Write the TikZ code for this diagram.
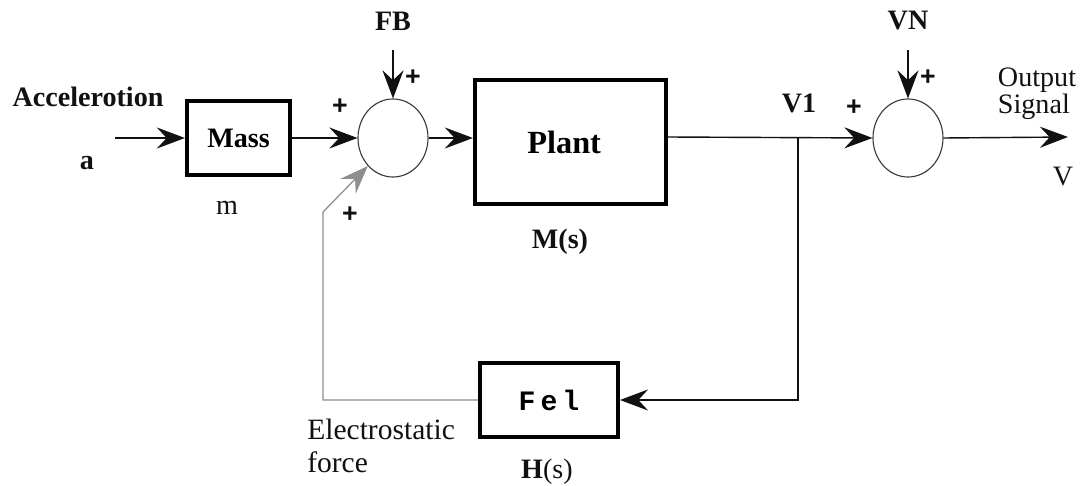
\documentclass[tikz,border=0pt]{standalone}
\usepackage{fontspec}
\setmainfont{Liberation Serif}
\newfontfamily\plusfont{Liberation Sans}
\newfontfamily\felfont[LetterSpace=18]{Liberation Mono}
\usetikzlibrary{arrows.meta,positioning,shapes.geometric,calc}
\definecolor{ink}{HTML}{111111}
\definecolor{ring}{HTML}{3A3A3A}
\definecolor{fbgray}{HTML}{8E8E8E}
\tikzset{
  block/.style={rectangle,draw=black,line width=2.8pt,fill=white,inner sep=0pt,font=\fontsize{20}{22}\selectfont\bfseries},
  summer/.style={ellipse,draw=ring,line width=0.8pt,minimum width=1.75cm,minimum height=1.95cm,inner sep=0pt},
  sig/.style={-{Stealth[length=20pt,width=15pt,inset=7pt]},line width=1pt,ink},
  fbline/.style={-{Stealth[length=20pt,width=15pt,inset=7pt]},line width=0.9pt,fbgray},
  tag/.style={font=\fontsize{20}{22}\selectfont\bfseries,text=ink,inner sep=0pt},
  note/.style={font=\fontsize{20}{18}\selectfont,text=ink,inner sep=0pt},
  plus/.style={font=\plusfont\fontsize{19}{19}\selectfont\bfseries,text=ink,inner sep=0pt}
}
\begin{document}
\begin{tikzpicture}[x=0.025cm,y=-0.025cm]
    \useasboundingbox (0,0) rectangle (1081,486);
    % blocks and summing points
    \node[block,minimum width=2.58cm,minimum height=1.85cm] (mass) at (238.5,138) {Mass};
    \node[summer] (sumA) at (393,138) {};
    \node[block,minimum width=4.78cm,minimum height=3.1cm,font=\fontsize{23}{25}\selectfont\bfseries] (plant) at (570.5,142) {\hspace*{-9pt}\raisebox{-2pt}{Plant}};
    \node[summer] (sumB) at (908,138) {};
    \node[block,minimum width=3.45cm,minimum height=1.83cm,font=\felfont\fontsize{20}{22}\selectfont\bfseries] (fel) at (549,400) {Fel};
    % labels
    \node[tag] (accel) at (88,97) {Accelerotion};
    \node[tag] (ain) at (87,163) {a};
    \node[note] (mlbl) at (227,208) {m};
    \node[tag] (fb) at (393,21) {FB};
    \node[tag] (vn) at (908,21) {VN};
    \node[tag] (vone) at (799,103) {V1};
    \node[tag] (mslbl) at (560,242) {M(s)};
    \node[tag] (hslbl) at (547,472) {H\textmd{(s)}};
    \node[note,align=left] (outlbl) at (1037,94) {Output\\Signal};
    \node[note] (vlbl) at (1063,177) {V};
    \node[note,align=left,anchor=west,font=\fontsize{21}{23}\selectfont] (eforce) at (307,446) {Electrostatic\\force};
    \node[plus] (pA1) at (340,107) {+};
    \node[plus] (pA2) at (413,78) {+};
    \node[plus] (pA3) at (350,215) {+};
    \node[plus] (pB1) at (854,108) {+};
    \node[plus] (pB2) at (928,78) {+};
    % free ends and bends
    \coordinate (aIn) at (115,138);
    \coordinate (fbIn) at (393,50);
    \coordinate (vnIn) at (908,50);
    \coordinate (vOut) at (1068,137);
    \coordinate (tap) at (798,137);
    \coordinate (bend) at (323,212);
    % signal path
    \draw[sig] (aIn) -- (mass.west);
    \draw[sig] (mass.east) -- (sumA.west);
    \draw[sig] (fbIn) -- (sumA.north);
    \draw[sig] (sumA.east) -- (sumA.east -| plant.west);
    \draw[sig] (plant.east |- tap) -- (sumB.west);
    \draw[sig] (vnIn) -- (sumB.north);
    \draw[sig] (sumB.east) -- (vOut);
    \draw[sig] (tap) |- (fel.east);
    \draw[fbline] (fel.west) -| (bend) -- (sumA.south west);
  \end{tikzpicture}
\end{document}
